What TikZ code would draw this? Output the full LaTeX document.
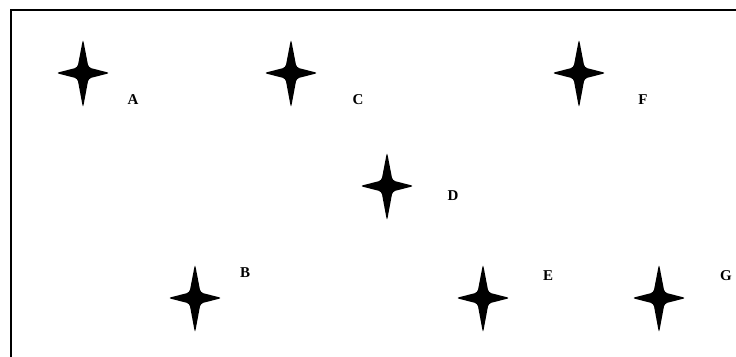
\documentclass[tikz,border=0pt]{standalone}
\usepackage{fontspec}
\setmainfont{Liberation Serif}
\begin{document}
\begin{tikzpicture}[x=1pt,y=-1pt,
  sparkle/.pic={
    \fill[rounded corners=3pt]
      (0,-34) -- (5.5,-5.5) -- (27,0) -- (5.5,5.5) -- (0,35)
      -- (-5.5,5.5) -- (-27,0) -- (-5.5,-5.5) -- cycle;
  },
  tag/.style={font=\bfseries\fontsize{15}{17}\selectfont, inner sep=0pt}]
  \useasboundingbox (0,0) rectangle (736,356);
  % frame, open towards the right and bottom
  \draw[line width=2pt] (11,360) -- (11,10) -- (740,10);
  % stars and their letters
  \path (83,73) pic {sparkle};   \node[tag] (A) at (133,100) {A};
  \path (291,73) pic {sparkle};  \node[tag] (C) at (358,100) {C};
  \path (579,73) pic {sparkle};  \node[tag] (F) at (643,100) {F};
  \path (387,186) pic {sparkle}; \node[tag] (D) at (453,196) {D};
  \path (195,298) pic {sparkle}; \node[tag] (B) at (245,273) {B};
  \path (483,298) pic {sparkle}; \node[tag] (E) at (548,276) {E};
  \path (659,298) pic {sparkle}; \node[tag] (G) at (726,276) {G};
\end{tikzpicture}
\end{document}
